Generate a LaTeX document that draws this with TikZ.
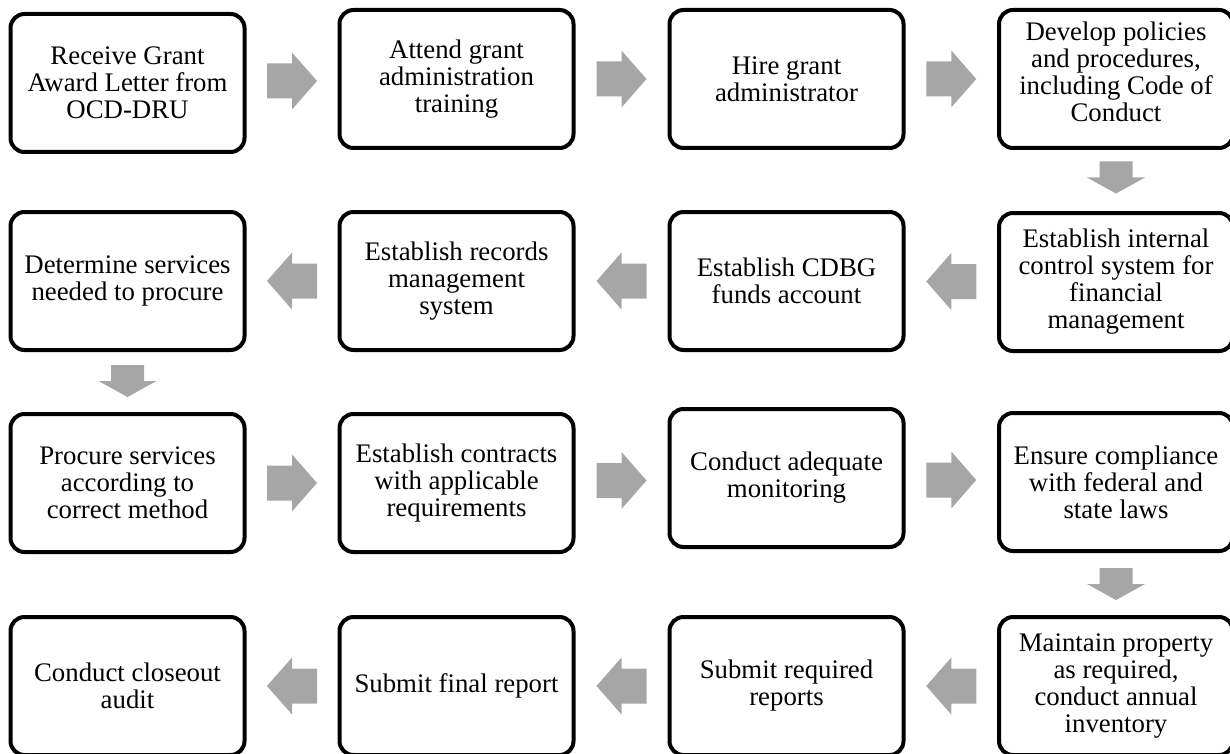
\documentclass[tikz,border=0pt]{standalone}
\usepackage{fontspec}
\setmainfont{Liberation Serif}
\usetikzlibrary{calc}
\definecolor{arrowgray}{RGB}{166,166,166}
\tikzset{
  boxtext/.style={align=center, inner sep=0pt, font=\fontsize{26.8}{27}\selectfont},
  stepbox/.style={boxtext, draw=black, line width=4pt, rounded corners=14pt, fill=white,
    minimum width=234pt, minimum height=138pt},
  rarrow/.pic={\fill[arrowgray] (-25,-17.5) -- (0,-17.5) -- (0,-28.5) -- (25,0)
      -- (0,28.5) -- (0,17.5) -- (-25,17.5) -- cycle;},
  larrow/.pic={\fill[arrowgray] (25,-17.5) -- (0,-17.5) -- (0,-28.5) -- (-25,0)
      -- (0,28.5) -- (0,17.5) -- (25,17.5) -- cycle;},
  darrow/.pic={\fill[arrowgray] (-16.5,-16) -- (16.5,-16) -- (16.5,0) -- (29,0)
      -- (0,16) -- (-29,0) -- (-16.5,0) -- cycle;},
}
\begin{document}
\begin{tikzpicture}[x=1pt,y=-1pt]
\useasboundingbox (0,0) rectangle (1230,754);
\clip (0,0) rectangle (1230,754);
% row 1
\node[stepbox] (b1) at (127.5,83) {Receive Grant\\Award Letter from\\OCD-DRU};
\node[stepbox] (b2) at (456.5,79) {Attend grant\\administration\\training};
\node[stepbox] (b3) at (786.5,79) {Hire grant\\administrator};
\node[stepbox] (b4) at (1116,79) {};
\node[boxtext] (t4) at ($(b4.center)+(0,-7)$) {Develop policies\\and procedures,\\including Code of\\Conduct};
% row 2
\node[stepbox] (b5) at (1116,282) {Establish internal\\control system for\\financial\\management};
\node[stepbox] (b6) at (786.5,281) {Establish CDBG\\funds account};
\node[stepbox] (b7) at (456.5,281) {Establish records\\management\\system};
\node[stepbox] (b8) at (127.5,281) {Determine services\\needed to procure};
% row 3
\node[stepbox] (b9) at (127.5,483) {Procure services\\according to\\correct method};
\node[stepbox] (b10) at (456.5,483) {Establish contracts\\with applicable\\requirements};
\node[stepbox] (b11) at (786.5,478) {Conduct adequate\\monitoring};
\node[stepbox] (b12) at (1116,482) {Ensure compliance\\with federal and\\state laws};
% row 4
\node[stepbox] (b13) at (1116,686) {Maintain property\\as required,\\conduct annual\\inventory};
\node[stepbox] (b14) at (786.5,686) {Submit required\\reports};
\node[stepbox] (b15) at (456.5,686) {Submit final report};
\node[stepbox] (b16) at (127.5,686) {Conduct closeout\\audit};
% arrows
\path ($(b1.east)!0.5!(b2.west)$) pic {rarrow};
\path ($(b2.east)!0.5!(b3.west)$) pic {rarrow};
\path ($(b3.east)!0.5!(b4.west)$) pic {rarrow};
\path ($(b4.south)!0.5!(b5.north)+(0,-3)$) pic {darrow};
\path ($(b5.west)!0.5!(b6.east)$) pic {larrow};
\path ($(b6.west)!0.5!(b7.east)$) pic {larrow};
\path ($(b7.west)!0.5!(b8.east)$) pic {larrow};
\path ($(b8.south)!0.5!(b9.north)+(0,-1)$) pic {darrow};
\path ($(b9.east)!0.5!(b10.west)$) pic {rarrow};
\path ($(b10.east)!0.5!(b11.west)$) pic {rarrow};
\path ($(b11.east)!0.5!(b12.west)$) pic {rarrow};
\path ($(b12.south)!0.5!(b13.north)$) pic {darrow};
\path ($(b13.west)!0.5!(b14.east)$) pic {larrow};
\path ($(b14.west)!0.5!(b15.east)$) pic {larrow};
\path ($(b15.west)!0.5!(b16.east)$) pic {larrow};
\end{tikzpicture}
\end{document}
